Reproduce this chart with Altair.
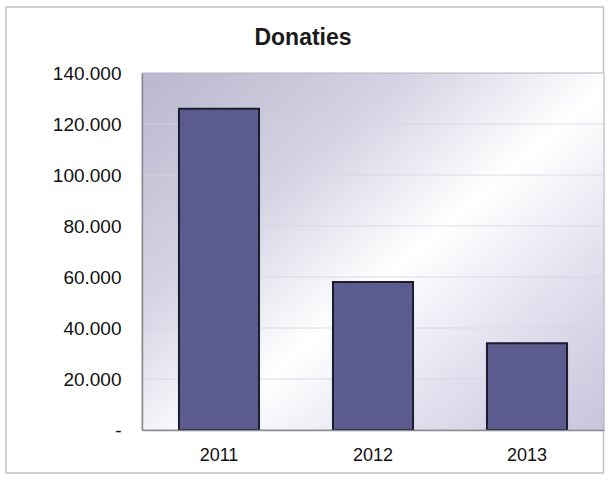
import altair as alt
import pandas as pd

years = ["2011", "2012", "2013"]
donaties = [126000, 58000, 34000]
y_ticks = [0, 20000, 40000, 60000, 80000, 100000, 120000, 140000]
grid_values = [20000, 40000, 60000, 80000, 100000, 120000]
title_text = "Donaties"

W, H = 462, 357
FONT = "Liberation Sans"

df = pd.DataFrame({"jaar": years, "donaties": donaties})
grid_df = pd.DataFrame({"donaties": grid_values})
one = pd.DataFrame({"t": [title_text]})

# outer frame of the chart object
frame = alt.Chart(one).mark_rect(
    fill="transparent", stroke="#c4c4c4", strokeWidth=1.5
).encode(
    x=alt.value(-136), x2=alt.value(W - 0.5), y=alt.value(-66), y2=alt.value(400)
)

# gradient wall of the plot area
wall = alt.Chart(one).mark_rect(
    fill=alt.Gradient(
        gradient="linear",
        x1=0, y1=0.05, x2=1, y2=0.95,
        stops=[
            alt.GradientStop(offset=0, color="#bcb9d0"),
            alt.GradientStop(offset=0.3, color="#d6d3e4"),
            alt.GradientStop(offset=0.55, color="#ffffff"),
            alt.GradientStop(offset=0.78, color="#e2dfee"),
            alt.GradientStop(offset=1, color="#cac6dd"),
        ],
    ),
    stroke="#b4b4bc", strokeWidth=1,
).encode(x=alt.value(0), x2=alt.value(W), y=alt.value(0), y2=alt.value(H))

yscale = alt.Scale(domain=[0, 140000], nice=False)
yaxis = alt.Axis(values=y_ticks, labelFontSize=19, labelFont=FONT, labelColor="#111111",
                 labelPadding=21, ticks=False, domainColor="#8a8a90", domainWidth=1.5,
                 grid=False, zindex=1,
                 labelExpr="datum.value == 0 ? '-' : replace(format(datum.value, ',d'), ',', '.')")

grid = alt.Chart(grid_df).mark_rule(color="#d6d4e2", strokeWidth=1, opacity=0.8).encode(
    y=alt.Y("donaties:Q", title=None, scale=yscale, axis=yaxis),
    x=alt.value(0), x2=alt.value(W),
)

xenc = alt.X(
    "jaar:N", sort=years, title=None,
    scale=alt.Scale(paddingInner=0.48, paddingOuter=0.24),
    axis=alt.Axis(labelAngle=0, labelFontSize=18, labelFont=FONT, labelColor="#111111",
                  labelPadding=16, ticks=False, domainColor="#8a8a90", domainWidth=1.5,
                  grid=False, zindex=1),
)
yenc = alt.Y("donaties:Q", title=None, scale=yscale, axis=yaxis)

bars = alt.Chart(df).mark_bar(
    fill="#5b5b8f", stroke="#1c1c2c", strokeWidth=2
).encode(x=xenc, y=yenc)

title = alt.Chart(one).mark_text(
    font=FONT, fontSize=23, fontWeight="bold", color="#1a1a1a",
    align="center", baseline="alphabetic"
).encode(x=alt.value(161), y=alt.value(-28), text="t:N")

chart = alt.layer(frame, wall, grid, bars, title).properties(
    width=W, height=H,
    autosize=alt.AutoSizeParams(type="none"),
    padding={"left": 142, "top": 73, "right": 4, "bottom": 56},
    background="white",
).configure_view(stroke=None)

chart.save("out.html", embed_options={"renderer": "svg", "actions": False})
